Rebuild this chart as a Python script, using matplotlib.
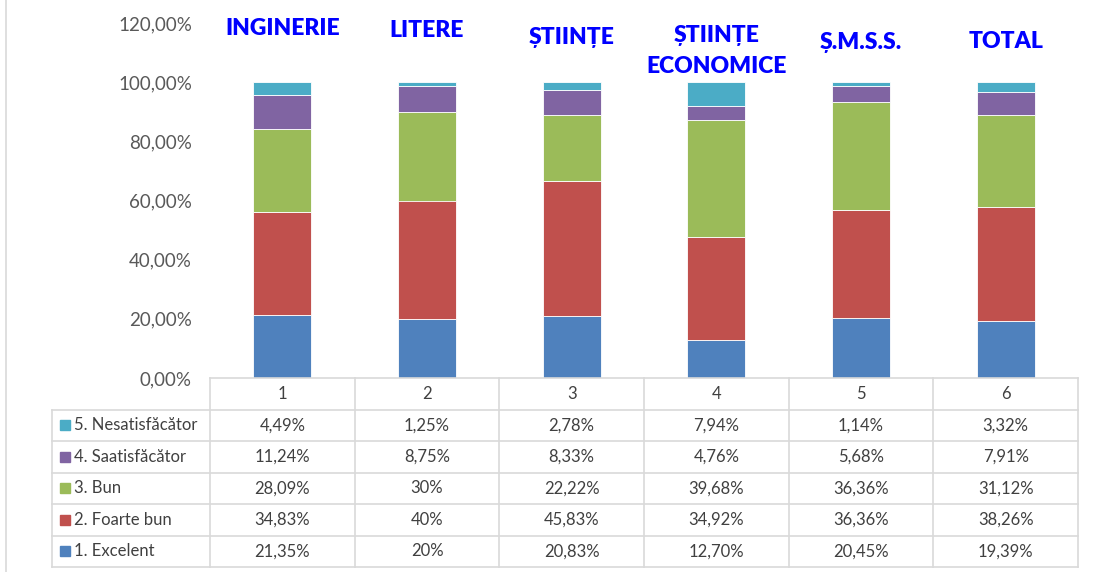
import matplotlib
matplotlib.use("Agg")
import matplotlib.pyplot as plt
from matplotlib.patches import Rectangle

plt.rcParams['font.family'] = ['Lato', 'DejaVu Sans']

categories = ["1", "2", "3", "4", "5", "6"]
group_titles = ["INGINERIE", "LITERE", "ȘTIINȚE", "ȘTIINȚE\nECONOMICE", "Ș.M.S.S.", "TOTAL"]
series_names = ["1. Excelent", "2. Foarte bun", "3. Bun", "4. Saatisfăcător", "5. Nesatisfăcător"]
excelent = [21.35, 20.00, 20.83, 12.70, 20.45, 19.39]
foarte_bun = [34.83, 40.00, 45.83, 34.92, 36.36, 38.26]
bun = [28.09, 30.00, 22.22, 39.68, 36.36, 31.12]
satisfacator = [11.24, 8.75, 8.33, 4.76, 5.68, 7.91]
nesatisfacator = [4.49, 1.25, 2.78, 7.94, 1.14, 3.32]
series_values = [excelent, foarte_bun, bun, satisfacator, nesatisfacator]
colors = ["#4F81BD", "#C0504D", "#9BBB59", "#8064A2", "#4BACC6"]
yticks = [0, 20, 40, 60, 80, 100, 120]
title_y = [118.2, 117.6, 115.0, 110.5, 113.4, 113.6]


def fmt(v):
    if abs(v - round(v)) < 1e-9:
        return f"{int(round(v))}%"
    return f"{v:.2f}".replace(".", ",") + "%"


W, H = 1094, 572
fig = plt.figure(figsize=(W / 100, H / 100), dpi=100)
fig.patch.set_facecolor("white")

# chart area left border
fig.add_artist(plt.Line2D([5.5 / W, 5.5 / W], [0, 1], color="#D9D9D9", lw=1.2))

ax_l, ax_r = 210 / W, 1078 / W
ax_b, ax_t = 1 - 378 / H, 1 - 23 / H
ax = fig.add_axes([ax_l, ax_b, ax_r - ax_l, ax_t - ax_b])
x = list(range(1, len(categories) + 1))
bottom = [0.0] * len(categories)
for vals, col, name in zip(series_values, colors, series_names):
    ax.bar(x, vals, width=0.4, bottom=bottom, color=col, edgecolor="white", linewidth=0.6, label=name)
    bottom = [b + v for b, v in zip(bottom, vals)]
ax.set_xlim(0.5, len(categories) + 0.5)
ax.set_ylim(0, 120)
ax.set_yticks(yticks)
ax.set_yticklabels([f"{t:.2f}".replace(".", ",") + "%" for t in yticks], fontsize=13.5, color="#595959")
ax.tick_params(axis="y", length=0, pad=13)
ax.set_xticks([])
for s in ["top", "right", "left", "bottom"]:
    ax.spines[s].set_visible(False)
for xi, t, ty in zip(x, group_titles, title_y):
    ax.text(xi, ty, t, ha="center", va="center", color="#0000FF", fontsize=16.5,
            fontweight="heavy", linespacing=1.55)

# data table
lab_left = 52 / W
unit = (ax_r - ax_l) / len(categories)
tb_top = 1 - 378 / H
tb_bot = 1 - 567 / H
nrows = len(series_names) + 1
rh = (tb_top - tb_bot) / nrows
tax = fig.add_axes([0, 0, 1, 1])
tax.set_xlim(0, 1)
tax.set_ylim(0, 1)
tax.axis("off")
grid = "#D9D9D9"
txtc = "#404040"
# header row
tax.plot([ax_l, ax_r], [tb_top, tb_top], color=grid, lw=1.2)
for i in range(len(categories) + 1):
    xx = ax_l + i * unit
    tax.plot([xx, xx], [tb_bot, tb_top], color=grid, lw=1.2)
tax.plot([lab_left, lab_left], [tb_bot, tb_top - rh], color=grid, lw=1.2)
for r in range(1, nrows + 1):
    yy = tb_top - r * rh
    tax.plot([lab_left, ax_r], [yy, yy], color=grid, lw=1.2)
for i, c in enumerate(categories):
    tax.text(ax_l + (i + 0.5) * unit, tb_top - 0.5 * rh, c, ha="center", va="center",
             fontsize=12, color=txtc)
order = list(range(len(series_names)))[::-1]
for r, si in enumerate(order, start=1):
    yc = tb_top - (r + 0.5) * rh
    tax.add_patch(Rectangle((60 / W, yc - 5 / H), 10 / W, 10 / H, color=colors[si], transform=tax.transAxes))
    tax.text(74 / W, yc, series_names[si], ha="left", va="center", fontsize=12, color=txtc)
    for i, v in enumerate(series_values[si]):
        tax.text(ax_l + (i + 0.5) * unit, yc, fmt(v), ha="center", va="center",
                 fontsize=12, color=txtc)

fig.savefig("out.png", dpi=100, facecolor="white")
